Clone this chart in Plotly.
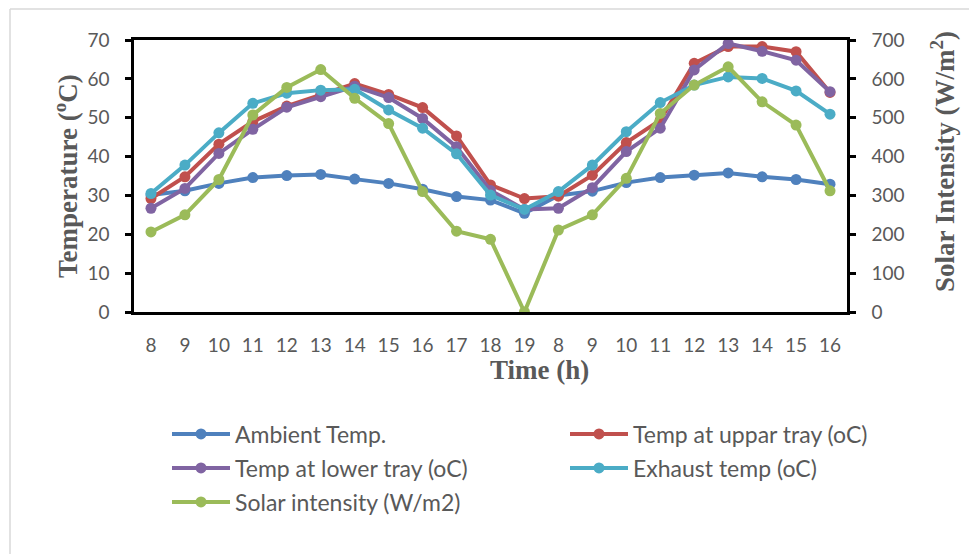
import plotly.graph_objects as go

hours = ["8", "9", "10", "11", "12", "13", "14", "15", "16", "17", "18", "19",
         "8", "9", "10", "11", "12", "13", "14", "15", "16"]

ambient = [30.1, 31.2, 33.1, 34.6, 35.1, 35.4, 34.2, 33.1, 31.6, 29.7, 28.8, 25.4,
           30.0, 31.1, 33.3, 34.6, 35.2, 35.8, 34.8, 34.1, 32.9]
upper_tray = [29.2, 34.8, 43.2, 49.0, 53.0, 56.0, 58.8, 56.0, 52.6, 45.3, 32.7, 29.2,
              29.8, 35.2, 43.6, 49.4, 64.0, 68.3, 68.3, 67.0, 56.5]
lower_tray = [26.7, 31.8, 40.8, 47.0, 52.7, 55.4, 58.1, 55.2, 49.8, 42.5, 31.3, 26.4,
              26.7, 32.0, 41.3, 47.3, 62.3, 69.1, 67.1, 64.8, 56.7]
exhaust = [30.5, 37.8, 46.1, 53.7, 56.3, 57.1, 57.3, 52.0, 47.3, 40.7, 30.1, 26.4,
           31.0, 37.8, 46.4, 53.9, 58.4, 60.5, 60.1, 56.9, 50.9]
solar = [206, 250, 341, 507, 578, 624, 550, 485, 310, 208, 187, 0,
         211, 250, 344, 511, 584, 631, 541, 481, 312]

names = ["Ambient Temp.", "Temp at uppar tray (oC)", "Temp at lower tray (oC)",
         "Exhaust temp (oC)", "Solar intensity (W/m2)"]
colors = ["#4F81BD", "#C0504D", "#8064A2", "#4BACC6", "#9BBB59"]

W, H = 969, 554
L, R, T, B = 134, 847, 40, 312  # plot-area pixel edges

def px_x(p):
    return (p - L) / (R - L)

def px_y(p):
    return (B - p) / (B - T)

x = list(range(len(hours)))
series = [ambient, upper_tray, lower_tray, exhaust, solar]
legend_ids = ["legend", "legend2", "legend3", "legend4", "legend5"]

fig = go.Figure()
for i, (nm, ys, col) in enumerate(zip(names, series, colors)):
    fig.add_trace(go.Scatter(
        x=x, y=ys, name=nm, mode="lines+markers",
        line=dict(color=col, width=4),
        marker=dict(color=col, size=11),
        yaxis="y2" if i == 4 else "y",
        legend=legend_ids[i],
    ))

tick_font = dict(family="Lato", size=19, color="#595959")
title_font = dict(family="Liberation Serif", size=27, color="#595959")
leg_font = dict(family="Lato", size=23, color="#595959")

# legend item positions (symbol left edge, row centre) in pixels
leg_pos = [(172, 434), (570, 434), (172, 468), (570, 468), (172, 502)]
leg_layout = {}
for lid, (lx, ly) in zip(legend_ids, leg_pos):
    leg_layout[lid] = dict(
        xref="container", yref="container",
        x=(lx - 5) / W, y=1 - ly / H, xanchor="left", yanchor="middle",
        font=leg_font, bgcolor="rgba(0,0,0,0)", itemwidth=58,
        borderwidth=0, orientation="v",
    )

fig.update_layout(
    width=W, height=H,
    margin=dict(l=L, r=W - R, t=T, b=H - B, autoexpand=False),
    paper_bgcolor="white", plot_bgcolor="white",
    showlegend=True,
    xaxis=dict(
        range=[-0.5, len(hours) - 0.5],
        tickvals=x, ticktext=hours,
        showline=True, linecolor="black", linewidth=2.5, mirror=True,
        ticks="", showgrid=False, zeroline=False,
        tickfont=tick_font, ticklabelstandoff=14,
    ),
    yaxis=dict(
        range=[0, 70], dtick=10,
        showline=True, linecolor="black", linewidth=2.5,
        ticks="outside", ticklen=6, tickwidth=2.5, tickcolor="black",
        showgrid=False, zeroline=False,
        tickfont=tick_font, ticklabelstandoff=12,
    ),
    yaxis2=dict(
        range=[0, 700], dtick=100, overlaying="y", side="right",
        showline=True, linecolor="black", linewidth=2.5,
        ticks="outside", ticklen=6, tickwidth=2.5, tickcolor="black",
        showgrid=False, zeroline=False,
        tickfont=tick_font, ticklabelstandoff=12,
    ),
    annotations=[
        dict(text="<b>Time (h)</b>", xref="paper", yref="paper",
             x=px_x(539), y=px_y(370), showarrow=False,
             xanchor="center", yanchor="middle", font=title_font),
        dict(text="<b>Temperature (<sup>o</sup>C)</b>", xref="paper", yref="paper",
             x=px_x(66), y=px_y(176), showarrow=False, textangle=-90,
             xanchor="center", yanchor="middle", font=title_font),
        dict(text="<b>Solar Intensity (W/m<sup>2</sup>)</b>", xref="paper", yref="paper",
             x=px_x(943), y=px_y(162), showarrow=False, textangle=-90,
             xanchor="center", yanchor="middle", font=title_font),
    ],
    shapes=[
        dict(type="line", xref="paper", yref="paper",
             x0=px_x(10), x1=px_x(10), y0=px_y(9), y1=px_y(560),
             line=dict(color="#D9D9D9", width=1.5)),
        dict(type="line", xref="paper", yref="paper",
             x0=px_x(10), x1=px_x(975), y0=px_y(9), y1=px_y(9),
             line=dict(color="#D9D9D9", width=1.5)),
    ],
    **leg_layout,
)

fig.write_html("out.html")
